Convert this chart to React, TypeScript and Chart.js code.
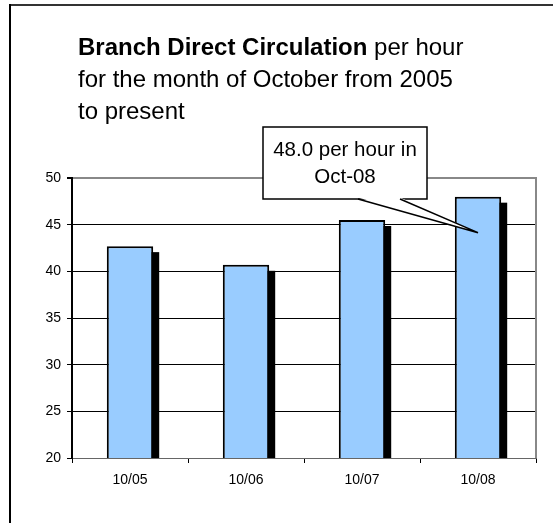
import React, { useEffect, useRef } from "react";
import { Chart, registerables } from "chart.js";

Chart.register(...registerables);

const categories = ["10/05", "10/06", "10/07", "10/08"];
const values = [42.7, 40.7, 45.5, 48.0];
const yTicks = [20, 25, 30, 35, 40, 45, 50];
const titleBold = "Branch Direct Circulation";
const titleRest = [" per hour", "for the month of October from 2005", "to present"];
const calloutLines = ["48.0 per hour in", "Oct-08"];

const FONT = "'Liberation Sans', Arial, sans-serif";

const decorPlugin = {
  id: "decor",
  beforeDatasetsDraw(chart: any) {
    const ctx = chart.ctx;
    const meta = chart.getDatasetMeta(0);
    const area = chart.chartArea;
    ctx.save();
    ctx.beginPath();
    ctx.rect(area.left, area.top, area.right - area.left, area.bottom - area.top);
    ctx.clip();
    ctx.fillStyle = "#000";
    meta.data.forEach((el: any) => {
      const p = el.getProps(["x", "y", "base", "width"], true);
      const left = p.x - p.width / 2 + 6;
      ctx.fillRect(left, p.y + 6, p.width, p.base - p.y);
    });
    ctx.restore();
  },
  afterDraw(chart: any) {
    const ctx = chart.ctx;
    const area = chart.chartArea;
    ctx.save();
    // right border of plot
    ctx.strokeStyle = "#888";
    ctx.lineWidth = 2;
    ctx.beginPath();
    ctx.moveTo(area.right, area.top - 1);
    ctx.lineTo(area.right, area.bottom);
    ctx.stroke();

    // outer frame
    ctx.strokeStyle = "#333";
    ctx.lineWidth = 2;
    ctx.beginPath();
    ctx.moveTo(10, 5);
    ctx.lineTo(chart.width, 5);
    ctx.stroke();
    ctx.strokeStyle = "#000";
    ctx.beginPath();
    ctx.moveTo(10, 4);
    ctx.lineTo(10, chart.height);
    ctx.stroke();

    // title
    ctx.fillStyle = "#000";
    ctx.textBaseline = "alphabetic";
    ctx.textAlign = "left";
    ctx.font = "bold 24px " + FONT;
    ctx.fillText(titleBold, 78, 55);
    const bw = ctx.measureText(titleBold).width;
    ctx.font = "24px " + FONT;
    ctx.fillText(titleRest[0], 78 + bw, 55);
    ctx.fillText(titleRest[1], 78, 87);
    ctx.fillText(titleRest[2], 78, 119);

    // callout
    const meta = chart.getDatasetMeta(0);
    const last = meta.data[meta.data.length - 1];
    const tipX = last.x;
    const tipY = last.y + 36;
    const bx = 263, by = 127, bwid = 164, bh = 72;
    ctx.fillStyle = "#fff";
    ctx.fillRect(bx, by, bwid, bh);
    ctx.strokeStyle = "#000";
    ctx.lineWidth = 1.5;
    ctx.strokeRect(bx, by, bwid, bh);
    ctx.beginPath();
    ctx.moveTo(358, by + bh - 1.5);
    ctx.lineTo(400, by + bh - 1.5);
    ctx.lineTo(tipX, tipY);
    ctx.closePath();
    ctx.fill();
    ctx.beginPath();
    ctx.moveTo(358, by + bh);
    ctx.lineTo(tipX, tipY);
    ctx.lineTo(400, by + bh);
    ctx.stroke();
    ctx.fillStyle = "#000";
    ctx.font = "20.5px " + FONT;
    ctx.textAlign = "center";
    ctx.fillText(calloutLines[0], bx + bwid / 2, 156);
    ctx.fillText(calloutLines[1], bx + bwid / 2, 183);
    ctx.restore();
  },
};

export default function App() {
  const ref = useRef<HTMLCanvasElement>(null);
  useEffect(() => {
    if (!ref.current) return;
    const chart = new Chart(ref.current, {
      type: "bar",
      data: {
        labels: categories,
        datasets: [
          {
            data: values,
            backgroundColor: "#99CCFF",
            borderColor: "#000",
            borderWidth: 2,
            borderSkipped: false,
            barPercentage: 0.4,
            categoryPercentage: 1,
          },
        ],
      },
      options: {
        animation: false,
        responsive: false,
        maintainAspectRatio: false,
        layout: { padding: { left: 0, top: 178, right: 17, bottom: 0 } },
        plugins: { legend: { display: false }, tooltip: { enabled: false }, title: { display: false } },
        scales: {
          x: {
            offset: true,
            grid: { offset: true, drawOnChartArea: false, drawTicks: true, tickLength: 5, color: "#000" },
            border: { display: true, color: "#666", width: 1 },
            ticks: { color: "#000", font: { family: FONT, size: 14 }, padding: 9, maxRotation: 0 },
            afterFit: (s: any) => { s.height = 65; },
          },
          y: {
            min: 20,
            max: 50,
            afterBuildTicks: (s: any) => { s.ticks = yTicks.map((v) => ({ value: v })); },
            grid: {
              color: (c: any) => (c.tick && c.tick.value === 50 ? "#888" : c.tick && c.tick.value === 20 ? "#666" : "#000"),
              lineWidth: (c: any) => (c.tick && c.tick.value === 50 ? 2 : 1),
              drawTicks: true,
              tickLength: 5,
              tickColor: "#000",
            },
            border: { display: true, color: "#000", width: 2 },
            ticks: { color: "#000", font: { family: FONT, size: 14 }, padding: 6 },
            afterFit: (s: any) => { s.width = 72; },
          },
        },
      },
      plugins: [decorPlugin],
    });
    return () => chart.destroy();
  }, []);
  return (
    <div style={{ position: "fixed", left: 0, top: 0, width: 553, height: 523, background: "#fff" }}>
      <canvas ref={ref} width={553} height={523} style={{ display: "block", width: 553, height: 523 }} />
    </div>
  );
}
